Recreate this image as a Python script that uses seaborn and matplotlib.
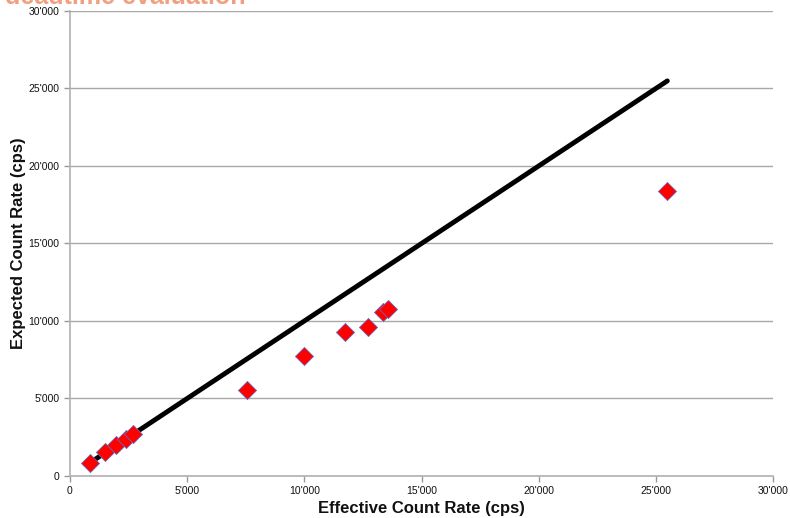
#!/usr/bin/python3

# libraries
import matplotlib
matplotlib.use('Agg')

import matplotlib.pyplot as plt
import numpy as np
import pandas as pd
import seaborn as sns
from matplotlib.ticker import FuncFormatter, MultipleLocator

# ------------------------------------------------------------
#     Data
# ------------------------------------------------------------

effective_rate = [850, 1490, 1960, 2380, 2700, 7550, 9990, 11740, 12730, 13370, 13580, 25490]
expected_rate = [860, 1530, 2000, 2390, 2710, 5550, 7740, 9270, 9630, 10600, 10750, 18410]

title = "deadtime evaluation"
x_label = "Effective Count Rate (cps)"
y_label = "Expected Count Rate (cps)"

# ------------------------------------------------------------
#     Plot
# ------------------------------------------------------------

def swiss_fmt(v, pos):
    return "{:,.0f}".format(v).replace(",", "'")

sns.set_style("white")
plt.rcParams['font.family'] = ['Liberation Sans', 'DejaVu Sans']

df = pd.DataFrame({"eff": effective_rate, "exp": expected_rate})
# ideal line: expected == effective over the measured range
ideal = pd.DataFrame({"eff": [min(effective_rate), max(effective_rate)]})
ideal["exp"] = ideal["eff"]

fig = plt.figure(figsize=(7.9, 5.18), dpi=100)
ax = fig.add_axes([0.0886, 0.0811, 0.8899, 0.8977])

sns.lineplot(data=ideal, x="eff", y="exp", color="black", linewidth=3.5, ax=ax)
sns.scatterplot(data=df, x="eff", y="exp", marker="D", s=85, color="#ff0000",
                edgecolor="#6a6ab8", linewidth=0.6, ax=ax, zorder=3)

ax.set_xlim(0, 30000)
ax.set_ylim(0, 30000)
ax.xaxis.set_major_locator(MultipleLocator(5000))
ax.yaxis.set_major_locator(MultipleLocator(5000))
ax.xaxis.set_major_formatter(FuncFormatter(swiss_fmt))
ax.yaxis.set_major_formatter(FuncFormatter(swiss_fmt))
ax.yaxis.grid(True, color="#a8a8a8", linewidth=1)
ax.set_axisbelow(True)

for side in ["top", "right"]:
    ax.spines[side].set_visible(False)
for side in ["left", "bottom"]:
    ax.spines[side].set_color("#b0b0b0")
    ax.spines[side].set_linewidth(1.2)
ax.tick_params(axis="both", labelsize=7.5, labelcolor="#111111", length=4,
               width=1, direction="out", bottom=True, left=True, color="#999999")

ax.set_xlabel(x_label, fontsize=12, fontweight="bold", labelpad=3, color="#111111")
ax.set_ylabel(y_label, fontsize=12, fontweight="bold", labelpad=2, color="#111111")

fig.text(0.006, 1 - 4.5 / 518, title, fontsize=18, color="#f0a080",
         fontweight="bold", va="baseline", ha="left")

plt.savefig("out.png", dpi=100)
